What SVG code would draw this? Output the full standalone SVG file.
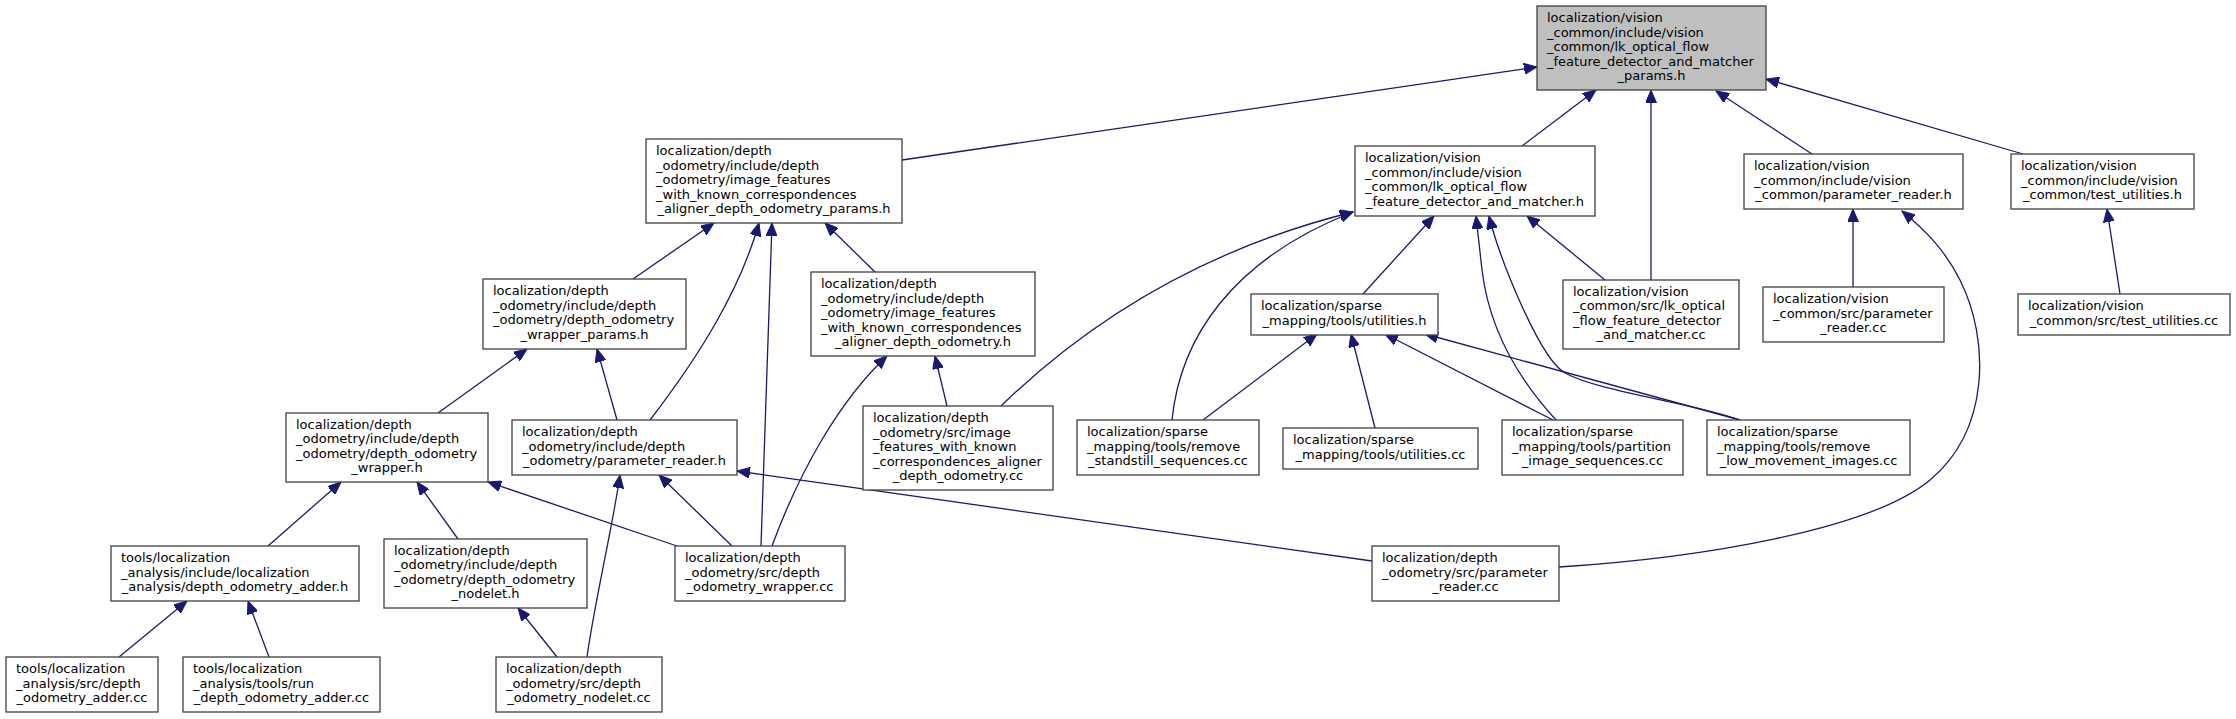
<svg xmlns="http://www.w3.org/2000/svg" width="2236" height="719" viewBox="0 0 2236 719">
<style>
.n rect{fill:#ffffff;stroke:#404040;stroke-width:1.3}
#root rect{fill:#bfbfbf}
text{font-family:"DejaVu Sans","Liberation Sans",sans-serif;font-size:13px;fill:#000}
.c{text-anchor:middle}
#edges path{fill:none;stroke:#191970;stroke-width:1.3;marker-end:url(#ah)}
</style>
<defs>
<marker id="ah" markerWidth="14" markerHeight="11" refX="13" refY="5.5" orient="auto" markerUnits="userSpaceOnUse"><path d="M0,0 L13,5.5 L0,11 z" fill="#191970" stroke="#191970" stroke-width="1"/></marker>
</defs>
<rect width="2236" height="719" fill="#ffffff"/>
<g id="edges">
<path d="M902,160 L1537,67"/>
<path d="M1522,146 L1596,90"/>
<path d="M1651,280 L1651,90"/>
<path d="M1812,154 L1716,91"/>
<path d="M2023,154 L1766,79"/>
<path d="M633,279 L714,223"/>
<path d="M650,420 C700,355 740,290 759,223"/>
<path d="M761,546 L772,223"/>
<path d="M876,273 L825,223"/>
<path d="M438,413 L527,349"/>
<path d="M617,420 L597,349"/>
<path d="M268,546 L341,482"/>
<path d="M458,539 L417,482"/>
<path d="M677,546 L488,482"/>
<path d="M587,657 C595,600 612,530 620,475"/>
<path d="M732,546 L659,475"/>
<path d="M1372,561 L737,471"/>
<path d="M1559,567 C1700,558 1870,530 1930,480 C1990,430 1990,340 1960,280 C1945,250 1925,230 1902,211"/>
<path d="M1853,287 L1853,209"/>
<path d="M2120,294 L2107,209"/>
<path d="M1605,280 L1527,216"/>
<path d="M1363,294 L1434,216"/>
<path d="M1556,420 C1510,370 1488,320 1482,270 L1476,216"/>
<path d="M1740,420 C1690,402 1600,392 1565,373 C1540,359 1500,260 1489,216"/>
<path d="M1172,420 C1180,340 1230,260 1353,212"/>
<path d="M1001,406 C1100,310 1220,245 1353,212"/>
<path d="M1203,420 L1317,334"/>
<path d="M1375,428 L1351,334"/>
<path d="M1553,420 L1385,334"/>
<path d="M1740,420 L1425,334"/>
<path d="M772,546 C800,470 840,400 887,356"/>
<path d="M947,406 L935,356"/>
<path d="M119,657 L187,601"/>
<path d="M269,657 L248,601"/>
<path d="M557,657 L518,608"/>
</g>
<g id="root" class="n"><rect x="1537" y="6" width="229" height="84"/><text><tspan x="1547" y="22">localization/vision</tspan><tspan x="1547" y="36.5">_common/include/vision</tspan><tspan x="1547" y="51">_common/lk_optical_flow</tspan><tspan x="1547" y="65.5">_feature_detector_and_matcher</tspan><tspan class="c" x="1651.5" y="80">_params.h</tspan></text></g>
<g id="ap" class="n"><rect x="646" y="139" width="256" height="84"/><text><tspan x="656" y="155">localization/depth</tspan><tspan x="656" y="169.5">_odometry/include/depth</tspan><tspan x="656" y="184">_odometry/image_features</tspan><tspan x="656" y="198.5">_with_known_correspondences</tspan><tspan class="c" x="774" y="213">_aligner_depth_odometry_params.h</tspan></text></g>
<g id="lkh" class="n"><rect x="1355" y="146" width="240" height="70"/><text><tspan x="1365" y="162.25">localization/vision</tspan><tspan x="1365" y="176.75">_common/include/vision</tspan><tspan x="1365" y="191.25">_common/lk_optical_flow</tspan><tspan class="c" x="1475" y="205.75">_feature_detector_and_matcher.h</tspan></text></g>
<g id="prv" class="n"><rect x="1744" y="154" width="219" height="55"/><text><tspan x="1754" y="170">localization/vision</tspan><tspan x="1754" y="184.5">_common/include/vision</tspan><tspan class="c" x="1853.5" y="199">_common/parameter_reader.h</tspan></text></g>
<g id="tuh" class="n"><rect x="2011" y="154" width="183" height="55"/><text><tspan x="2021" y="170">localization/vision</tspan><tspan x="2021" y="184.5">_common/include/vision</tspan><tspan class="c" x="2102.5" y="199">_common/test_utilities.h</tspan></text></g>
<g id="wp" class="n"><rect x="483" y="279" width="203" height="70"/><text><tspan x="493" y="295.25">localization/depth</tspan><tspan x="493" y="309.75">_odometry/include/depth</tspan><tspan x="493" y="324.25">_odometry/depth_odometry</tspan><tspan class="c" x="584.5" y="338.75">_wrapper_params.h</tspan></text></g>
<g id="ah-node" class="n"><rect x="811" y="272" width="224" height="84"/><text><tspan x="821" y="288">localization/depth</tspan><tspan x="821" y="302.5">_odometry/include/depth</tspan><tspan x="821" y="317">_odometry/image_features</tspan><tspan x="821" y="331.5">_with_known_correspondences</tspan><tspan class="c" x="923" y="346">_aligner_depth_odometry.h</tspan></text></g>
<g id="uh" class="n"><rect x="1251" y="294" width="187" height="41"/><text><tspan x="1261" y="310.25">localization/sparse</tspan><tspan class="c" x="1344.5" y="324.75">_mapping/tools/utilities.h</tspan></text></g>
<g id="lkcc" class="n"><rect x="1563" y="280" width="176" height="69"/><text><tspan x="1573" y="295.75">localization/vision</tspan><tspan x="1573" y="310.25">_common/src/lk_optical</tspan><tspan x="1573" y="324.75">_flow_feature_detector</tspan><tspan class="c" x="1651" y="339.25">_and_matcher.cc</tspan></text></g>
<g id="prvcc" class="n"><rect x="1763" y="287" width="181" height="55"/><text><tspan x="1773" y="303">localization/vision</tspan><tspan x="1773" y="317.5">_common/src/parameter</tspan><tspan class="c" x="1853.5" y="332">_reader.cc</tspan></text></g>
<g id="tucc" class="n"><rect x="2018" y="294" width="212" height="41"/><text><tspan x="2028" y="310.25">localization/vision</tspan><tspan class="c" x="2124" y="324.75">_common/src/test_utilities.cc</tspan></text></g>
<g id="wh" class="n"><rect x="286" y="413" width="202" height="69"/><text><tspan x="296" y="428.75">localization/depth</tspan><tspan x="296" y="443.25">_odometry/include/depth</tspan><tspan x="296" y="457.75">_odometry/depth_odometry</tspan><tspan class="c" x="387" y="472.25">_wrapper.h</tspan></text></g>
<g id="prh" class="n"><rect x="512" y="420" width="225" height="55"/><text><tspan x="522" y="436">localization/depth</tspan><tspan x="522" y="450.5">_odometry/include/depth</tspan><tspan class="c" x="624.5" y="465">_odometry/parameter_reader.h</tspan></text></g>
<g id="ifcc" class="n"><rect x="863" y="406" width="190" height="84"/><text><tspan x="873" y="422">localization/depth</tspan><tspan x="873" y="436.5">_odometry/src/image</tspan><tspan x="873" y="451">_features_with_known</tspan><tspan x="873" y="465.5">_correspondences_aligner</tspan><tspan class="c" x="958" y="480">_depth_odometry.cc</tspan></text></g>
<g id="rscc" class="n"><rect x="1077" y="420" width="182" height="55"/><text><tspan x="1087" y="436">localization/sparse</tspan><tspan x="1087" y="450.5">_mapping/tools/remove</tspan><tspan class="c" x="1168" y="465">_standstill_sequences.cc</tspan></text></g>
<g id="ucc" class="n"><rect x="1283" y="428" width="195" height="41"/><text><tspan x="1293" y="444.25">localization/sparse</tspan><tspan class="c" x="1380.5" y="458.75">_mapping/tools/utilities.cc</tspan></text></g>
<g id="pcc" class="n"><rect x="1502" y="420" width="181" height="55"/><text><tspan x="1512" y="436">localization/sparse</tspan><tspan x="1512" y="450.5">_mapping/tools/partition</tspan><tspan class="c" x="1592.5" y="465">_image_sequences.cc</tspan></text></g>
<g id="rlcc" class="n"><rect x="1707" y="420" width="203" height="55"/><text><tspan x="1717" y="436">localization/sparse</tspan><tspan x="1717" y="450.5">_mapping/tools/remove</tspan><tspan class="c" x="1808.5" y="465">_low_movement_images.cc</tspan></text></g>
<g id="dah" class="n"><rect x="111" y="546" width="248" height="55"/><text><tspan x="121" y="562">tools/localization</tspan><tspan x="121" y="576.5">_analysis/include/localization</tspan><tspan class="c" x="235" y="591">_analysis/depth_odometry_adder.h</tspan></text></g>
<g id="nh" class="n"><rect x="384" y="539" width="203" height="69"/><text><tspan x="394" y="554.75">localization/depth</tspan><tspan x="394" y="569.25">_odometry/include/depth</tspan><tspan x="394" y="583.75">_odometry/depth_odometry</tspan><tspan class="c" x="485.5" y="598.25">_nodelet.h</tspan></text></g>
<g id="wcc" class="n"><rect x="675" y="546" width="170" height="55"/><text><tspan x="685" y="562">localization/depth</tspan><tspan x="685" y="576.5">_odometry/src/depth</tspan><tspan class="c" x="760" y="591">_odometry_wrapper.cc</tspan></text></g>
<g id="dprcc" class="n"><rect x="1372" y="546" width="187" height="55"/><text><tspan x="1382" y="562">localization/depth</tspan><tspan x="1382" y="576.5">_odometry/src/parameter</tspan><tspan class="c" x="1465.5" y="591">_reader.cc</tspan></text></g>
<g id="acc" class="n"><rect x="6" y="657" width="152" height="55"/><text><tspan x="16" y="673">tools/localization</tspan><tspan x="16" y="687.5">_analysis/src/depth</tspan><tspan class="c" x="82" y="702">_odometry_adder.cc</tspan></text></g>
<g id="racc" class="n"><rect x="183" y="657" width="197" height="55"/><text><tspan x="193" y="673">tools/localization</tspan><tspan x="193" y="687.5">_analysis/tools/run</tspan><tspan class="c" x="281.5" y="702">_depth_odometry_adder.cc</tspan></text></g>
<g id="ncc" class="n"><rect x="496" y="657" width="166" height="55"/><text><tspan x="506" y="673">localization/depth</tspan><tspan x="506" y="687.5">_odometry/src/depth</tspan><tspan class="c" x="579" y="702">_odometry_nodelet.cc</tspan></text></g>
</svg>
